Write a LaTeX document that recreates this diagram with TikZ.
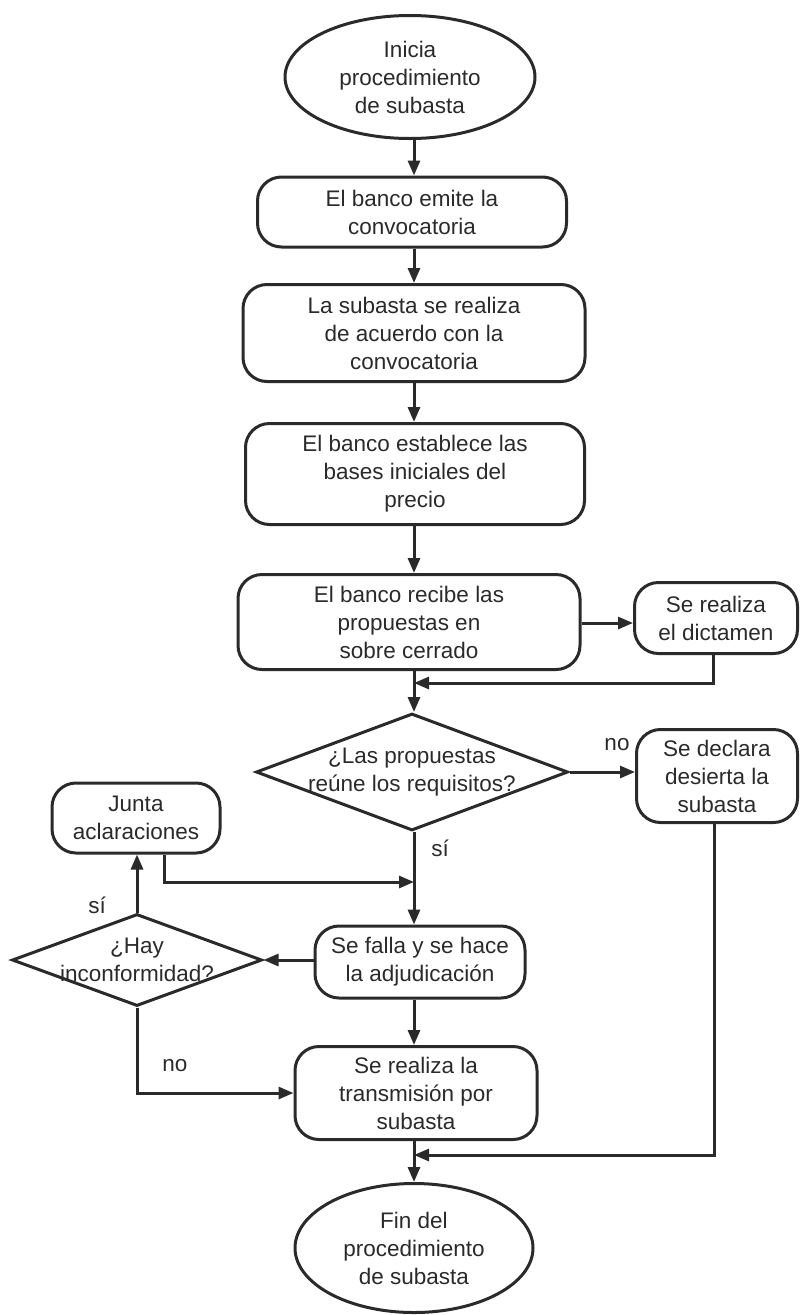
\documentclass[tikz,border=0pt]{standalone}
\usepackage{fontspec}
\setmainfont{Liberation Sans}
\usetikzlibrary{shapes.geometric,arrows.meta,calc}
\definecolor{ink}{HTML}{2A2A2A}
\tikzset{
  every node/.style={font=\fontsize{22.5}{28}\selectfont, text=ink, align=center},
  procbox/.style={draw=ink, line width=3pt, rounded corners=24pt, inner sep=0pt},
  termin/.style={draw=ink, line width=3pt, ellipse, inner sep=0pt},
  decis/.style={draw=ink, line width=3pt, diamond, inner sep=0pt},
  conn/.style={draw=ink, line width=3pt},
  arr/.style={conn, -{Triangle[length=15pt,width=12pt]}},
  lbl/.style={font=\fontsize{22.5}{26}\selectfont}
}
\begin{document}
\begin{tikzpicture}[x=1pt,y=-1pt]
\useasboundingbox (0,0) rectangle (805,1315);
\coordinate (col) at (414,0);

\node[termin, minimum width=250, minimum height=123] (start) at (410,77) {Inicia\\procedimiento\\de subasta};
\node[procbox, minimum width=309, minimum height=70] (b1) at (412,212) {El banco emite la\\convocatoria};
\node[procbox, minimum width=342, minimum height=97] (b2) at (414,333) {La subasta se realiza\\de acuerdo con la\\convocatoria};
\node[procbox, minimum width=339, minimum height=101] (b3) at (415,474) {El banco establece las\\bases iniciales del\\precio};
\node[procbox, minimum width=342, minimum height=95] (b4) at (409,622) {El banco recibe las\\propuestas en\\sobre cerrado};
\node[procbox, minimum width=163, minimum height=71] (dict) at (716,618) {Se realiza\\el dictamen};
\node[decis, minimum width=312, minimum height=117, label={center:{¿Las propuestas\\reúne los requisitos?}}] (d1) at (412,772) {};
\node[procbox, minimum width=161, minimum height=93] (desierta) at (717,776) {Se declara\\desierta la\\subasta};
\node[procbox, minimum width=168, minimum height=70] (junta) at (136,818) {Junta\\aclaraciones};
\node[procbox, minimum width=210, minimum height=72] (falla) at (420,962) {Se falla y se hace\\la adjudicación};
\node[decis, minimum width=250, minimum height=92, label={center:{¿Hay\\inconformidad?}}] (d2) at (137,960) {};
\node[procbox, minimum width=242, minimum height=93] (trans) at (416,1093) {Se realiza la\\transmisión por\\subasta};
\node[termin, minimum width=238, minimum height=129] (fin) at (414,1248) {Fin del\\procedimiento\\de subasta};

\coordinate (fb1) at (414,683);
\coordinate (fb2) at (414,882);
\coordinate (fb3) at (414,1155);

% main column
\draw[arr] (start.south -| col) -- (b1.north -| col);
\draw[arr] (b1.south -| col) -- (b2.north -| col);
\draw[arr] (b2.south -| col) -- (b3.north -| col);
\draw[arr] (b3.south -| col) -- (b4.north -| col);
\draw[arr] (b4.south -| col) -- (d1.north -| col);
\draw[arr] (d1.south -| col) -- (falla.north -| col);
\draw[arr] (falla.south -| col) -- (trans.north -| col);
\draw[arr] (trans.south -| col) -- (fin.north -| col);

% side branches
\draw[arr] ([yshift=-1]b4.east) -- ([yshift=-1]b4.east -| dict.west);
\draw[arr] ([xshift=-3]dict.south) |- (fb1);
\draw[arr] (d1.east) -- (d1.east -| desierta.west);
\draw[arr] ([xshift=-3]desierta.south) |- (fb3);
\draw[arr] ([xshift=28]junta.south) |- (fb2);
\draw[arr] (falla.west |- d2.east) -- (d2.east);
\draw[arr] (d2.north) -- (d2.north |- junta.south);
\draw[arr] (d2.south) |- (trans.west);

% labels
\node[lbl] (lno1) at (617,745) {no};
\node[lbl] (lsi1) at (440,848) {sí};
\node[lbl] (lsi2) at (97,905) {sí};
\node[lbl] (lno2) at (175,1066) {no};
\end{tikzpicture}
\end{document}
